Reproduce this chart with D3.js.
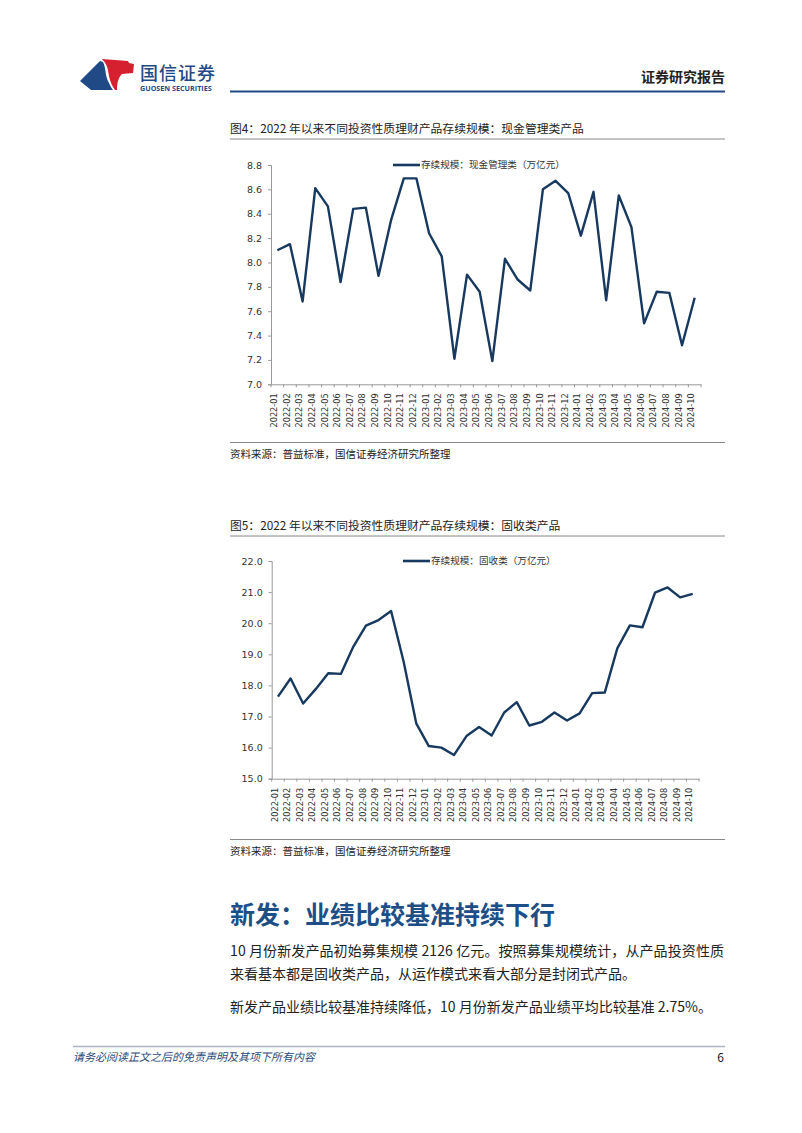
<!DOCTYPE html>
<html><head><meta charset="utf-8">
<script src="https://cdn.jsdelivr.net/npm/d3@7"></script>
<style>
html,body{margin:0;padding:0;background:#fff;}
svg{display:block;font-family:"Noto Sans CJK SC","Noto Sans",sans-serif;}
</style></head>
<body>
<svg id="page" width="802" height="1133"></svg>
<script>
// ---------- data ----------
const months = ["2022-01","2022-02","2022-03","2022-04","2022-05","2022-06","2022-07","2022-08","2022-09","2022-10","2022-11","2022-12",
"2023-01","2023-02","2023-03","2023-04","2023-05","2023-06","2023-07","2023-08","2023-09","2023-10","2023-11","2023-12",
"2024-01","2024-02","2024-03","2024-04","2024-05","2024-06","2024-07","2024-08","2024-09","2024-10"];
const cashValues = [8.10,8.15,7.68,8.61,8.46,7.84,8.44,8.45,7.89,8.35,8.69,8.69,8.24,8.05,7.21,7.90,7.76,7.19,8.03,7.86,7.77,8.60,8.67,8.57,8.22,8.58,7.69,8.55,8.29,7.50,7.76,7.75,7.32,7.71];
const fixedValues = [17.64,18.22,17.42,17.88,18.39,18.37,19.25,19.92,20.10,20.39,18.76,16.78,16.05,16.00,15.76,16.37,16.66,16.39,17.13,17.46,16.71,16.83,17.13,16.87,17.10,17.75,17.77,19.19,19.93,19.87,20.98,21.15,20.83,20.94];
const cashTicks = [7.0,7.2,7.4,7.6,7.8,8.0,8.2,8.4,8.6,8.8];
const fixedTicks = [15,16,17,18,19,20,21,22];
const cashTitle = "图4：2022 年以来不同投资性质理财产品存续规模：现金管理类产品";
const fixedTitle = "图5：2022 年以来不同投资性质理财产品存续规模：固收类产品";
const cashLegend = "存续规模：现金管理类（万亿元）";
const fixedLegend = "存续规模：固收类（万亿元）";
const sourceText = "资料来源：普益标准，国信证券经济研究所整理";

const svg = d3.select("#page");
svg.append("rect").attr("width",802).attr("height",1133).attr("fill","#fff");
const navy = "#17395f";

// ---------- header ----------
const logo = svg.append("g");
logo.append("path").attr("d","M80,81 L100,61 L103,62 C106,68 105,75 108,81 C110,85 111,88 113,90 L91,90 Z").attr("fill","#1f4a86");
logo.append("path").attr("d","M102,59 L128,61 L129,63 L134,64 L133,73 L122,74 C118,78 117,84 117,90 L115,90 C112,86 110,81 109,76 C108,69 107,64 102,59 Z").attr("fill","#d7202f");
svg.append("text").attr("x",140).attr("y",80).attr("font-size",18).attr("font-weight",500).attr("fill","#1f4a86").attr("letter-spacing",1).text("国信证券");
svg.append("text").attr("x",140).attr("y",91).attr("font-size",7.2).attr("font-weight",700).attr("fill","#1f4a86").attr("font-family","Open Sans, sans-serif").text("GUOSEN SECURITIES");
svg.append("text").attr("x",725).attr("y",82).attr("text-anchor","end").attr("font-size",14).attr("font-weight",700).attr("fill","#222").text("证券研究报告");
svg.append("line").attr("x1",230).attr("x2",725).attr("y1",91.5).attr("y2",91.5).attr("stroke","#1f4a86").attr("stroke-width",2.2);

// ---------- charts ----------
function drawChart(o){
  const g = svg.append("g");
  g.append("text").attr("x",230).attr("y",o.titleY).attr("font-size",11.8).attr("fill","#222").text(o.title);
  g.append("line").attr("x1",230).attr("x2",725).attr("y1",o.titleY+6.5).attr("y2",o.titleY+6.5).attr("stroke","#888").attr("stroke-width",1);
  g.append("line").attr("x1",230).attr("x2",725).attr("y1",o.bottomLineY).attr("y2",o.bottomLineY).attr("stroke","#888").attr("stroke-width",1);
  g.append("text").attr("x",230).attr("y",o.bottomLineY+15).attr("font-size",10.5).attr("fill","#222").text(sourceText);

  const x = d3.scalePoint().domain(months).range([o.x0, o.x1]).padding(0.5);
  const xb = d3.scaleBand().domain(months).range([o.x0, o.x1]);
  const y = d3.scaleLinear().domain(o.domain).range([o.bottom, o.top]);

  // y axis
  const ya = g.append("g").attr("transform",`translate(${o.x0},0)`)
    .call(d3.axisLeft(y).tickValues(o.ticks).tickFormat(d3.format(".1f")).tickSize(3).tickPadding(6));
  ya.selectAll("path,line").attr("stroke","#999");
  ya.selectAll("text").attr("font-size",9.5).attr("fill","#333").attr("font-family","DejaVu Sans, sans-serif");

  // x axis
  const xa = g.append("g").attr("transform",`translate(0,${o.bottom})`)
    .call(d3.axisBottom(xb).tickSize(0).tickSizeOuter(0));
  xa.select("path").attr("stroke","#999");
  xa.selectAll("text").attr("font-size",8.2).attr("fill","#333").attr("font-family","DejaVu Sans, sans-serif")
    .attr("text-anchor","end").attr("transform","rotate(-90)").attr("x",-9).attr("y",-3).attr("dy","0.32em");
  // boundary ticks
  const bounds = months.map(m=>xb(m)).concat([o.x1]);
  g.selectAll(null).data(bounds).enter().append("line")
    .attr("x1",d=>d).attr("x2",d=>d).attr("y1",o.bottom).attr("y2",o.bottom+3).attr("stroke","#999");

  // line
  g.append("path").datum(o.values)
    .attr("fill","none").attr("stroke",navy).attr("stroke-width",2.4).attr("stroke-linejoin","round")
    .attr("d", d3.line().x((d,i)=>x(months[i])).y(d=>y(d)));

  // legend
  g.append("line").attr("x1",o.legX).attr("x2",o.legX+27).attr("y1",o.top).attr("y2",o.top).attr("stroke",navy).attr("stroke-width",2.6);
  g.append("text").attr("x",o.legX+28).attr("y",o.top).attr("dy","0.35em").attr("font-size",9.6).attr("fill","#333").text(o.legend);
}

drawChart({title:cashTitle,titleY:132.5,bottomLineY:442.5,x0:271,x1:701,top:165,bottom:384.3,domain:[7.0,8.8],ticks:cashTicks,values:cashValues,legend:cashLegend,legX:393});
drawChart({title:fixedTitle,titleY:529.5,bottomLineY:839.5,x0:271.7,x1:699,top:561,bottom:778.7,domain:[15,22],ticks:fixedTicks,values:fixedValues,legend:fixedLegend,legX:403});

// ---------- text body ----------
svg.append("text").attr("x",230).attr("y",924).attr("font-size",25).attr("font-weight",700).attr("fill","#1d4f86").text("新发：业绩比较基准持续下行");
svg.append("text").attr("x",230).attr("y",956).attr("font-size",14).attr("fill","#222")
  .attr("textLength",494).attr("lengthAdjust","spacing").text("10 月份新发产品初始募集规模 2126 亿元。按照募集规模统计，从产品投资性质");
svg.append("text").attr("x",230).attr("y",979).attr("font-size",14).attr("fill","#222").text("来看基本都是固收类产品，从运作模式来看大部分是封闭式产品。");
svg.append("text").attr("x",230).attr("y",1012).attr("font-size",14).attr("fill","#222").text("新发产品业绩比较基准持续降低，10 月份新发产品业绩平均比较基准 2.75%。");

// ---------- footer ----------
svg.append("line").attr("x1",73).attr("x2",725).attr("y1",1046.5).attr("y2",1046.5).attr("stroke","#aab4c4").attr("stroke-width",1.6);
svg.append("text").attr("x",73).attr("y",1061).attr("font-size",11).attr("font-style","italic").attr("fill","#2b4a7a").text("请务必阅读正文之后的免责声明及其项下所有内容");
svg.append("text").attr("x",724).attr("y",1062).attr("text-anchor","end").attr("font-size",12).attr("fill","#222").text("6");
</script>
</body></html>
